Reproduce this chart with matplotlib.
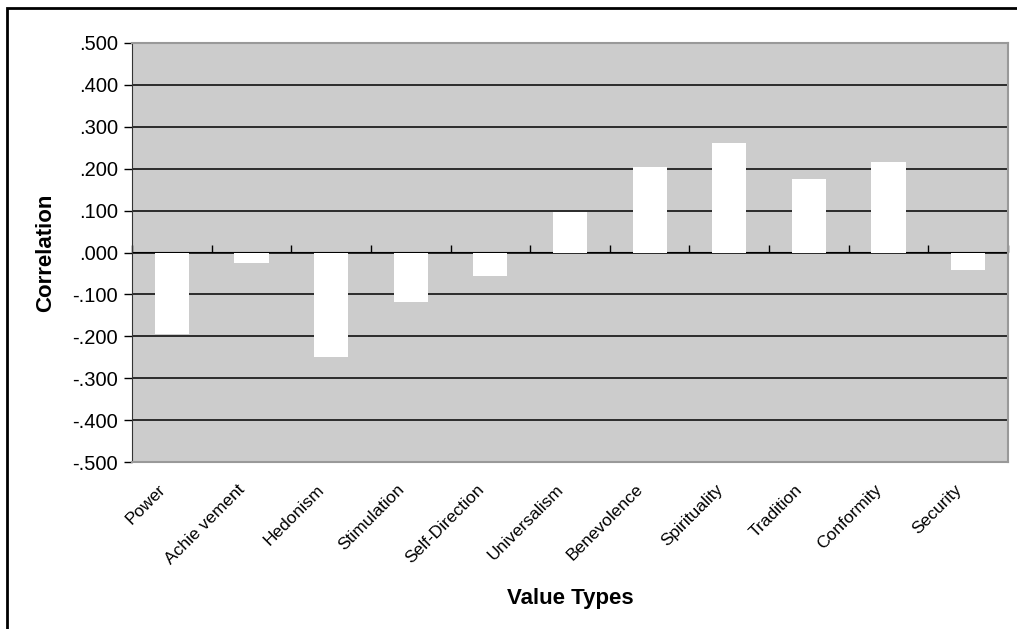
import numpy as np
import matplotlib.pyplot as plt
from matplotlib.patches import Rectangle
from matplotlib.ticker import FuncFormatter
from matplotlib.transforms import ScaledTranslation

plt.rcParams['font.family'] = ['Liberation Sans', 'DejaVu Sans']

categories = ['Power', 'Achievement', 'Hedonism', 'Stimulation', 'Self-Direction',
              'Universalism', 'Benevolence', 'Spirituality', 'Tradition',
              'Conformity', 'Security']
tick_labels = ['Power', 'Achie vement', 'Hedonism', 'Stimulation', 'Self-Direction',
               'Universalism', 'Benevolence', 'Spirituality', 'Tradition',
               'Conformity', 'Security']
correlations = [-0.195, -0.026, -0.250, -0.118, -0.057,
                0.097, 0.204, 0.261, 0.175, 0.216, -0.042]
y_ticks = [-0.5, -0.4, -0.3, -0.2, -0.1, 0.0, 0.1, 0.2, 0.3, 0.4, 0.5]


def corr_fmt(v, pos):
    s = f"{v:.3f}"
    return s.replace("0.", ".", 1)


W, H = 1017, 629
fig = plt.figure(figsize=(W / 100, H / 100), dpi=100)
ax = fig.add_axes([132 / W, 1 - 462 / H, (1008 - 132) / W, (462 - 43) / H])
ax.set_facecolor('#CCCCCC')

x = np.arange(len(categories))
ax.bar(x, correlations, width=0.43, color='white', edgecolor='none', zorder=3)

ax.set_xlim(-0.5, len(categories) - 0.5)
ax.set_ylim(-0.5, 0.5)
ax.set_yticks(y_ticks)
ax.yaxis.set_major_formatter(FuncFormatter(corr_fmt))
for v in y_ticks[1:-1]:
    ax.axhline(v, color='black', lw=1.1, zorder=1)

# category axis crossing at zero, tick marks between categories
zero_axis = ax.secondary_xaxis(0.5)
zero_axis.set_xticks(np.arange(len(categories) + 1) - 0.5, labels=[])
zero_axis.tick_params(direction='out', length=5, width=1, color='black')
zero_axis.spines['bottom'].set_color('#222222')
zero_axis.spines['bottom'].set_linewidth(1.2)

ax.set_xticks(x, labels=tick_labels)
ax.tick_params(axis='x', length=0, pad=18, labelsize=12.5)
shift = ScaledTranslation(-0.09, 0.0, fig.dpi_scale_trans)
for lbl in ax.get_xticklabels():
    lbl.set_rotation(45)
    lbl.set_ha('right')
    lbl.set_va('center')
    lbl.set_rotation_mode('anchor')
    lbl.set_transform(lbl.get_transform() + shift)
ax.tick_params(axis='y', direction='out', length=6, width=1, labelsize=14.5, pad=4)

for side in ['top', 'right', 'bottom']:
    ax.spines[side].set_color('#999999')
    ax.spines[side].set_linewidth(1.5)
ax.spines['left'].set_color('#333333')

ax.set_ylabel('Correlation', fontsize=16, fontweight='bold', labelpad=12)
ax.set_xlabel('Value Types', fontsize=16, fontweight='bold', labelpad=15)

# chart frame
fig.patches.append(Rectangle((7 / W, -0.05), 1.1, 1.05 - 8 / H,
                             transform=fig.transFigure, fill=False,
                             edgecolor='black', lw=2, clip_on=False))

fig.savefig('out.png', dpi=100)
